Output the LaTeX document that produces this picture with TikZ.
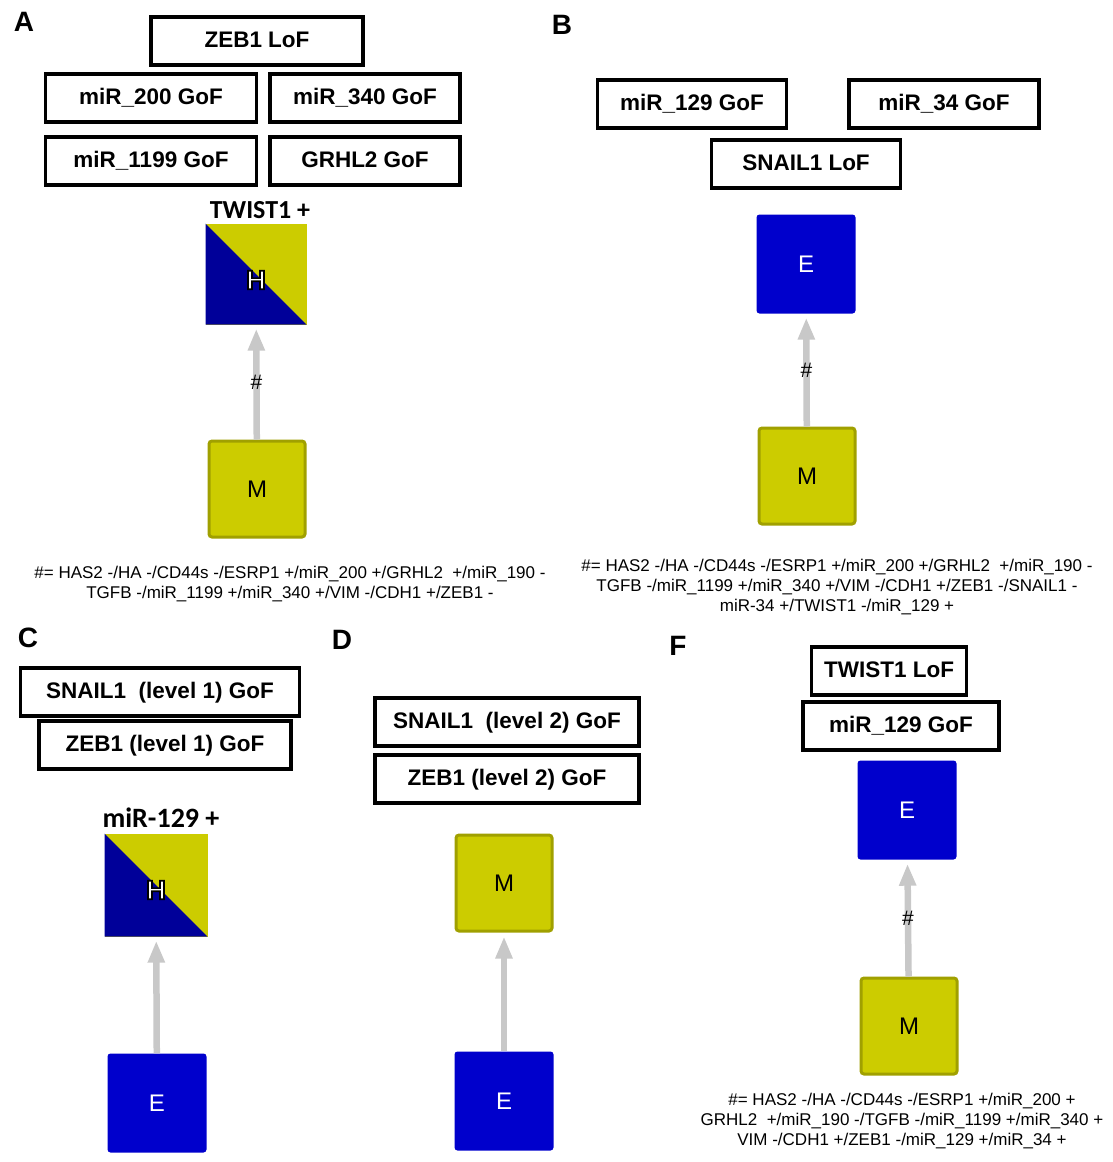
\documentclass[tikz,border=0pt]{standalone}
\usepackage{fontspec}
\setmainfont{Liberation Sans}
\newfontfamily\calibfont{Carlito}
\usetikzlibrary{arrows.meta}
\usetikzlibrary{positioning}

\definecolor{stateyellow}{RGB}{204,204,0}
\definecolor{yellowedge}{RGB}{160,160,0}
\definecolor{stateblue}{RGB}{0,0,204}
\definecolor{hybridblue}{RGB}{0,0,153}
\definecolor{flowgray}{RGB}{200,200,200}

% white letter with a black rim (text render mode 2)
\newcommand{\rimmed}[1]{\special{pdf:code q 2 Tr 1.7 w 0 0 0 RG 1 1 1 rg}#1\special{pdf:code Q}}

\begin{document}
\begin{tikzpicture}[x=1pt,y=-1pt,
    perturb/.style={draw, line width=3.5pt, inner sep=0pt, minimum height=48pt,
      text height=16pt, text depth=4pt, font=\fontsize{22.5}{26}\selectfont\bfseries},
    panel/.style={font=\fontsize{28}{30}\selectfont\bfseries},
    mstate/.style={draw=yellowedge, fill=stateyellow, line width=3pt, rounded corners=3pt,
      minimum size=96pt, font=\fontsize{24}{26}\selectfont},
    estate/.style={fill=stateblue, rounded corners=3pt, minimum size=99pt, text=white,
      font=\fontsize{24}{26}\selectfont},
    hstate/.style={fill=stateyellow, minimum size=101pt, inner sep=0pt,
      path picture={\fill[hybridblue] (path picture bounding box.north west)
        -- (path picture bounding box.south west) -- (path picture bounding box.south east) -- cycle;}},
    hletter/.style={font=\fontsize{27}{29}\selectfont\bfseries, text=white},
    marker/.style={font=\fontsize{26}{28}\selectfont\bfseries\calibfont},
    flow/.style={draw=flowgray, line width=6.5pt, shorten >=4pt,
      -{Triangle[width=16pt,length=22pt]}},
    hash/.style={font=\fontsize{21}{23}\selectfont},
    note/.style={align=center, font=\fontsize{17}{20}\selectfont}]
  \useasboundingbox (0,0) rectangle (1113,1162);

  % A
  \node[panel] (labA) at (24,22) {A};
  \node[perturb, minimum width=212pt] (zebA) at (257,41) {ZEB1 LoF};
  \node[perturb, minimum width=211pt] (m200) at (151,98) {miR\_200 GoF};
  \node[perturb, minimum width=190pt] (m340) at (365,98) {miR\_340 GoF};
  \node[perturb, minimum width=211pt] (m1199) at (151,161) {miR\_1199 GoF};
  \node[perturb, minimum width=190pt] (grhl) at (365,161) {GRHL2 GoF};
  \node[marker] (twA) at (260,210) {TWIST1 +};
  \node[hstate] (hA) at (256,274) {};
  \node[hletter] (hlA) at ([yshift=-6pt]hA.center) {\rimmed{H}};
  \node[mstate] (mA) at (257,489) {M};
  \draw[flow] (mA) -- (hA) node[midway, hash, text=black] {\#};
  \node[note] (noteA) at (290,584) {\#= HAS2 -/HA -/CD44s -/ESRP1 +/miR\_200 +/GRHL2 \ +/miR\_190 -\\
    TGFB -/miR\_1199 +/miR\_340 +/VIM -/CDH1 +/ZEB1 -};

  % B
  \node[panel] (labB) at (562,25) {B};
  \node[perturb, minimum width=189pt] (m129B) at (692,104) {miR\_129 GoF};
  \node[perturb, minimum width=190pt] (m34B) at (944,104) {miR\_34 GoF};
  \node[perturb, minimum width=189pt] (snB) at (806,164) {SNAIL1 LoF};
  \node[estate] (eB) at (806,264) {E};
  \node[mstate] (mB) at (807,476) {M};
  \draw[flow] (mB) -- (eB) node[midway, hash, text=black] {\#};
  \node[note] (noteB) at (837,587) {\#= HAS2 -/HA -/CD44s -/ESRP1 +/miR\_200 +/GRHL2 \ +/miR\_190 -\\
    TGFB -/miR\_1199 +/miR\_340 +/VIM -/CDH1 +/ZEB1 -/SNAIL1 -\\
    miR-34 +/TWIST1 -/miR\_129 +};

  % C
  \node[panel] (labC) at (28,638) {C};
  \node[perturb, minimum width=279pt] (snC) at (160,692) {SNAIL1 \ (level 1) GoF};
  \node[perturb, minimum width=252pt] (zebC) at (165,745) {ZEB1 (level 1) GoF};
  \node[marker, font=\fontsize{28}{30}\selectfont\bfseries\calibfont] (mirC) at (161,818) {miR-129 +};
  \node[hstate, minimum size=103pt] (hC) at (156,885) {};
  \node[hletter] (hlC) at ([yshift=-5pt]hC.center) {\rimmed{H}};
  \node[estate] (eC) at (157,1103) {E};
  \draw[flow] (eC) -- (hC);

  % D
  \node[panel] (labD) at (342,640) {D};
  \node[perturb, minimum width=264pt] (snD) at (507,722) {SNAIL1 \ (level 2) GoF};
  \node[perturb, minimum width=264pt] (zebD) at (507,779) {ZEB1 (level 2) GoF};
  \node[mstate] (mD) at (504,883) {M};
  \node[estate] (eD) at (504,1101) {E};
  \draw[flow] (eD) -- (mD);

  % F
  \node[panel] (labF) at (678,646) {F};
  \node[perturb, minimum width=155pt] (twF) at (889,671) {TWIST1 LoF};
  \node[perturb, minimum width=196pt] (m129F) at (901,726) {miR\_129 GoF};
  \node[estate] (eF) at (907,810) {E};
  \node[mstate] (mF) at (909,1026) {M};
  \draw[flow] (mF) -- (eF) node[midway, hash, text=black] {\#};
  \node[note] (noteF) at (902,1121) {\#= HAS2 -/HA -/CD44s -/ESRP1 +/miR\_200 +\\
    GRHL2 \ +/miR\_190 -/TGFB -/miR\_1199 +/miR\_340 +\\
    VIM -/CDH1 +/ZEB1 -/miR\_129 +/miR\_34 +};
\end{tikzpicture}
\end{document}
